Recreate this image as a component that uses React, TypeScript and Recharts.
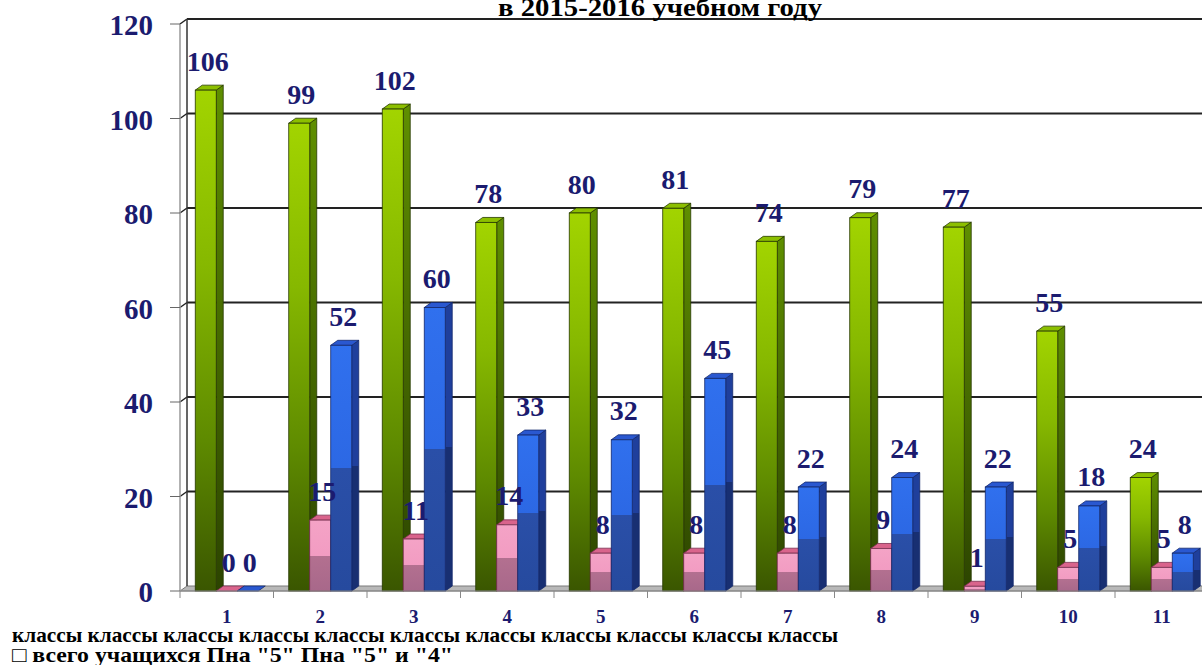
import React from 'react';
import { BarChart, Bar, XAxis, YAxis, CartesianGrid, LabelList } from 'recharts';

// ---- data ----
const classes = ['1', '2', '3', '4', '5', '6', '7', '8', '9', '10', '11'];
const totalStudents = [106, 99, 102, 78, 80, 81, 74, 79, 77, 55, 24];
const excellent = [0, 15, 11, 14, 8, 8, 8, 9, 1, 5, 5];
const goodAndExcellent = [0, 52, 60, 33, 32, 45, 22, 24, 22, 18, 8];
const yTicks = [0, 20, 40, 60, 80, 100, 120];
const titleText = 'в 2015-2016 учебном году';
const captionWord = 'классы';
const legendText = '□ всего учащихся Пна "5" Пна "5" и "4"';

const data = classes.map((c, i) => ({
  name: c,
  total: totalStudents[i],
  five: excellent[i],
  fiveFour: goodAndExcellent[i],
}));

// ---- layout ----
const LEFT = 180;
const RIGHT = 1208.5;
const TOP = 24;
const BOTTOM = 591;
const CHART_W = 1222;
const CHART_H = 665;
const DX = 7;
const DY = 5;
const BAND = (RIGHT - LEFT) / classes.length;
const NAVY = '#1b1b6f';
const SERIF = '"Liberation Serif", "Times New Roman", serif';

type Pal = { front: string; side: string; top: string; stroke: string };
const GREEN: Pal = { front: 'gFront', side: 'gSide', top: '#8cbf00', stroke: '#263800' };
const PINK: Pal = { front: 'pFront', side: 'pSide', top: '#d9648c', stroke: '#7a3050' };
const BLUE: Pal = { front: 'bFront', side: 'bSide', top: '#2a58d0', stroke: '#13286c' };

const make3D = (pal: Pal) => (props: any) => {
  const { x, y, width, height } = props;
  const h = Math.max(0, height || 0);
  const x2 = x + width;
  const yb = y + h;
  return (
    <g>
      {h > 0 && (
        <polygon
          points={`${x2},${y} ${x2 + DX},${y - DY} ${x2 + DX},${yb - DY} ${x2},${yb}`}
          fill={`url(#${pal.side})`}
          stroke={pal.stroke}
          strokeWidth={0.8}
        />
      )}
      <polygon
        points={`${x},${y} ${x + DX},${y - DY} ${x2 + DX},${y - DY} ${x2},${y}`}
        fill={pal.top}
        stroke={pal.stroke}
        strokeWidth={0.8}
      />
      {h > 0 && (
        <rect x={x} y={y} width={width} height={h} fill={`url(#${pal.front})`} stroke={pal.stroke} strokeWidth={0.8} />
      )}
    </g>
  );
};

const ValueLabel = (props: any) => {
  const { x, y, width, value } = props;
  return (
    <text
      x={x + width / 2 + 2}
      y={y - 29}
      textAnchor="middle"
      dominantBaseline="central"
      fill={NAVY}
      fontFamily={SERIF}
      fontWeight="bold"
      fontSize={28}
    >
      {value}
    </text>
  );
};

const GridLine = (props: any) => {
  const { x1, y1, x2 } = props;
  if (Math.abs(y1 - BOTTOM) < 1) {
    return (
      <g>
        <polygon
          points={`${x1},${y1} ${x1 + DX},${y1 - DY} ${x2 + DX},${y1 - DY} ${x2},${y1}`}
          fill="#b8b8b8"
          stroke="#7a7a7a"
          strokeWidth={1}
        />
      </g>
    );
  }
  const isTop = Math.abs(y1 - TOP) < 1;
  return (
    <g>
      <line x1={x1} y1={y1} x2={x1 + DX} y2={y1 - DY} stroke="#222" strokeWidth={1.5} />
      <line x1={x1 + DX} y1={y1 - DY} x2={x2 + DX} y2={y1 - DY} stroke="#222" strokeWidth={2} />
      {isTop && (
        <line x1={x1 + DX} y1={y1 - DY} x2={x1 + DX} y2={BOTTOM - DY} stroke="#333" strokeWidth={1.5} />
      )}
    </g>
  );
};

const XTick = (props: any) => {
  const { x, payload } = props;
  return (
    <g>
      <line x1={x - BAND / 2} y1={BOTTOM} x2={x - BAND / 2} y2={BOTTOM + 7} stroke="#888" strokeWidth={1} />
      <text
        x={x}
        y={BOTTOM + 32}
        textAnchor="middle"
        fill={NAVY}
        fontFamily={SERIF}
        fontWeight="bold"
        fontSize={19}
      >
        {payload.value}
      </text>
    </g>
  );
};

const YTick = (props: any) => {
  const { x, y, payload } = props;
  return (
    <text
      x={x - 9}
      y={y + 1}
      textAnchor="end"
      dominantBaseline="central"
      fill={NAVY}
      fontFamily={SERIF}
      fontWeight="bold"
      fontSize={29}
    >
      {payload.value}
    </text>
  );
};

const Defs = () => (
  <svg width={0} height={0} style={{ position: 'absolute' }}>
    <defs>
      <linearGradient id="gFront" x1="0" y1="0" x2="0" y2="1">
        <stop offset="0" stopColor="#a2d400" />
        <stop offset="0.35" stopColor="#86b800" />
        <stop offset="0.7" stopColor="#5e8a00" />
        <stop offset="1" stopColor="#3a5600" />
      </linearGradient>
      <linearGradient id="gSide" x1="0" y1="0" x2="0" y2="1">
        <stop offset="0" stopColor="#5f8f00" />
        <stop offset="1" stopColor="#2c4400" />
      </linearGradient>
      <linearGradient id="pFront" x1="0" y1="0" x2="0" y2="1">
        <stop offset="0" stopColor="#f4a3c6" />
        <stop offset="0.5" stopColor="#f29cc2" />
        <stop offset="0.5" stopColor="#b37090" />
        <stop offset="1" stopColor="#a8688a" />
      </linearGradient>
      <linearGradient id="pSide" x1="0" y1="0" x2="0" y2="1">
        <stop offset="0" stopColor="#c86c94" />
        <stop offset="0.5" stopColor="#c86c94" />
        <stop offset="0.5" stopColor="#8e5068" />
        <stop offset="1" stopColor="#8e5068" />
      </linearGradient>
      <linearGradient id="bFront" x1="0" y1="0" x2="0" y2="1">
        <stop offset="0" stopColor="#3070ee" />
        <stop offset="0.5" stopColor="#2c68e4" />
        <stop offset="0.5" stopColor="#2a4fa8" />
        <stop offset="1" stopColor="#264a9e" />
      </linearGradient>
      <linearGradient id="bSide" x1="0" y1="0" x2="0" y2="1">
        <stop offset="0" stopColor="#1f3f9c" />
        <stop offset="0.5" stopColor="#1f3f9c" />
        <stop offset="0.5" stopColor="#182f72" />
        <stop offset="1" stopColor="#182f72" />
      </linearGradient>
    </defs>
  </svg>
);

export default function App() {
  const caption = classes.map(() => captionWord).join(' ');
  return (
    <div
      style={{
        position: 'absolute',
        left: 0,
        top: 0,
        width: 1202,
        height: 665,
        overflow: 'hidden',
        background: '#fff',
      }}
    >
      <Defs />
      <div style={{ position: 'absolute', left: 0, top: 0 }}>
        <BarChart
          width={CHART_W}
          height={CHART_H}
          data={data}
          margin={{ top: TOP, right: CHART_W - RIGHT, bottom: 0, left: 0 }}
          barCategoryGap="16.3%"
          barGap={0}
        >
          <CartesianGrid vertical={false} horizontal={GridLine as any} />
          <XAxis
            dataKey="name"
            height={CHART_H - BOTTOM}
            axisLine={{ stroke: '#8a8a8a', strokeWidth: 1 }}
            tickLine={false}
            tick={XTick}
            interval={0}
          />
          <YAxis
            width={LEFT}
            domain={[0, 120]}
            ticks={yTicks}
            tickSize={10}
            tickMargin={8}
            tickLine={{ stroke: '#666' }}
            axisLine={{ stroke: '#999', strokeWidth: 1.5 }}
            tick={YTick}
            interval={0}
          />
          <Bar dataKey="total" isAnimationActive={false} shape={make3D(GREEN)}>
            <LabelList dataKey="total" content={ValueLabel} />
          </Bar>
          <Bar dataKey="five" isAnimationActive={false} shape={make3D(PINK)}>
            <LabelList dataKey="five" content={ValueLabel} />
          </Bar>
          <Bar dataKey="fiveFour" isAnimationActive={false} shape={make3D(BLUE)}>
            <LabelList dataKey="fiveFour" content={ValueLabel} />
          </Bar>
        </BarChart>
      </div>
      <svg
        width={1202}
        height={665}
        style={{ position: 'absolute', left: 0, top: 0, pointerEvents: 'none' }}
      >
        <text
          x={498}
          y={16}
          fontFamily={SERIF}
          fontWeight="bold"
          fontSize={25}
          fill="#000"
          textLength={324}
          lengthAdjust="spacingAndGlyphs"
        >
          {titleText}
        </text>
        <text
          x={12}
          y={642}
          fontFamily={SERIF}
          fontWeight="bold"
          fontSize={21}
          fill="#000"
          textLength={826}
          lengthAdjust="spacingAndGlyphs"
        >
          {caption}
        </text>
        <text
          x={12}
          y={662}
          fontFamily={SERIF}
          fontWeight="bold"
          fontSize={21}
          fill="#000"
          textLength={441}
          lengthAdjust="spacingAndGlyphs"
        >
          {legendText}
        </text>
      </svg>
    </div>
  );
}
